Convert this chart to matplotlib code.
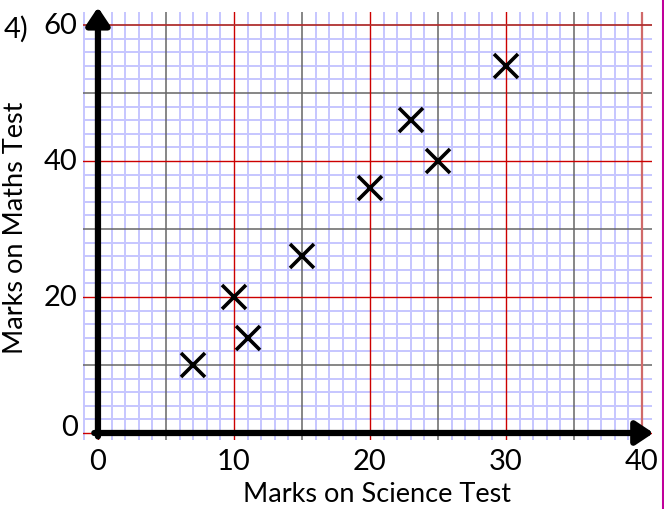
import matplotlib
matplotlib.use("Agg")
import matplotlib.pyplot as plt
from matplotlib.lines import Line2D
import numpy as np

science = [7, 10, 11, 15, 20, 23, 25, 30]
maths = [10, 20, 14, 26, 36, 46, 40, 54]
x_ticks = [0, 10, 20, 30, 40]
y_ticks = [0, 20, 40, 60]

plt.rcParams['font.family'] = ['Lato', 'DejaVu Sans']

fig = plt.figure(figsize=(6.64, 5.09), dpi=100)
ax = fig.add_axes([83/664, 69/509, 569/664, 428/509])
ax.set_xlim(-1.1, 40.74)
ax.set_ylim(-1.03, 61.9)
for s in ax.spines.values():
    s.set_visible(False)
ax.set_xticks([]); ax.set_yticks([])

# fine grid
for xv in np.arange(-1, 41, 1):
    if xv % 5 != 0:
        ax.axvline(xv, color='#c6c6ff', lw=1.4, zorder=1)
for yv in np.arange(-2, 62, 2):
    if yv % 10 != 0:
        ax.axhline(yv, color='#c6c6ff', lw=1.4, zorder=1)
# medium grid
for xv in [5, 15, 25, 35]:
    ax.axvline(xv, color='#666666', lw=1.1, zorder=2)
for yv in [10, 30, 50]:
    ax.axhline(yv, color='#666666', lw=1.1, zorder=2)
# major grid
for xv in [0, 10, 20, 30]:
    ax.axvline(xv, color='#cc0000', lw=1.0, zorder=3)
ax.axvline(40, color='#d06a6a', lw=1.6, zorder=3)
for yv in [0, 20, 40]:
    ax.axhline(yv, color='#cc0000', lw=1.0, zorder=3)
ax.axhline(60, color='#b03030', lw=1.3, zorder=3)

# axes arrows
ap = dict(arrowstyle='-|>,head_length=0.75,head_width=0.5', lw=4.5, color='black',
          mutation_scale=14, shrinkA=0, shrinkB=0)
ax.annotate('', xy=(40.85, 0), xytext=(-0.27, 0), arrowprops=ap, annotation_clip=False, zorder=5)
ax.annotate('', xy=(0, 62.6), xytext=(0, -0.5), arrowprops=ap, annotation_clip=False, zorder=5)

ax.plot(science, maths, linestyle='none', marker='x', markersize=17, mew=2.6,
        color='black', zorder=6)

fs = 21
for xv in x_ticks:
    ax.text(xv, -4.2, str(xv), ha='center', va='center', fontsize=fs, clip_on=False)
for yv in y_ticks:
    off = 0.7 if yv == 0 else -0.1
    ax.text(-1.5, yv + off, str(yv), ha='right', va='center', fontsize=fs, clip_on=False)
fig.text(4/664, 1 - 29/509, '4)', ha='left', va='center', fontsize=fs)

fig.text(377/664, 1 - 494/509, 'Marks on Science Test', ha='center', va='center', fontsize=19.5)
fig.text(16/664, 1 - 228/509, 'Marks on Maths Test', ha='center', va='center',
         fontsize=19.5, rotation=90)

fig.add_artist(Line2D([662.5/664, 662.5/664], [0, 1], transform=fig.transFigure,
                      color='#c0009a', lw=2.2))

fig.savefig('out.png', dpi=100)
